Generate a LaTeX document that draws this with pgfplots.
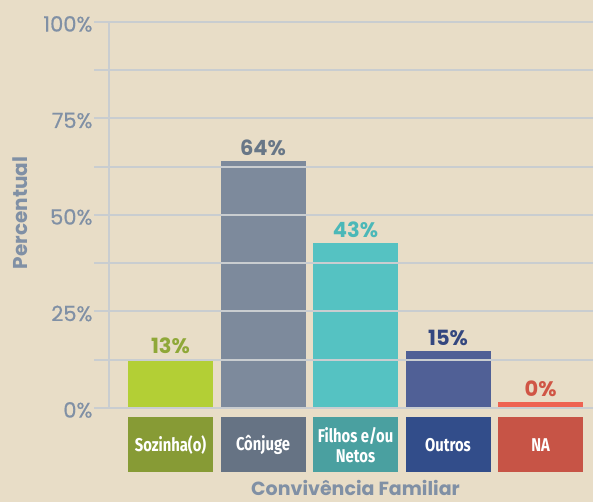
\documentclass[border=0pt]{standalone}
\usepackage{pgfplots}
\pgfplotsset{compat=1.18}
\usepackage{fontspec}
\setmainfont{Poppins}
\newfontfamily\tickfont[FakeBold=0.6]{Poppins}
\newfontfamily\condfont[FakeStretch=0.8]{Fira Sans}

\definecolor{bg}{HTML}{E8DDC7}
\definecolor{gridc}{HTML}{C9CDD0}
\definecolor{axtext}{HTML}{8090A5}
% bars
\definecolor{b1}{HTML}{B3CF35}
\definecolor{b2}{HTML}{7D8A9C}
\definecolor{b3}{HTML}{55C2C2}
\definecolor{b4}{HTML}{506096}
\definecolor{b5}{HTML}{EE6352}
% label boxes
\definecolor{d1}{HTML}{879B35}
\definecolor{d2}{HTML}{667384}
\definecolor{d3}{HTML}{4AA0A0}
\definecolor{d4}{HTML}{324D8A}
\definecolor{d5}{HTML}{C75446}
% value labels
\definecolor{v1}{HTML}{8FA838}
\definecolor{v2}{HTML}{687787}
\definecolor{v3}{HTML}{4BB8B8}
\definecolor{v4}{HTML}{34477F}
\definecolor{v5}{HTML}{D05545}

\begin{document}
\begin{tikzpicture}
\path[use as bounding box, fill=bg] (-109pt,-94pt) rectangle (484pt,408pt);
\begin{axis}[
    at={(0,0)}, anchor=south west,
    scale only axis,
    width=484pt, height=386pt,
    xmin=-0.665, xmax=4.567,
    ymin=0, ymax=100,
    clip=false,
    axis on top,
    axis lines=left,
    axis line style={draw=gridc, line width=2.2pt, -},
    xtick=\empty,
    ytick={0,25,50,75,100},
    minor ytick={12.5,37.5,62.5,87.5},
    grid=both,
    major grid style={draw=gridc, line width=2pt},
    minor grid style={draw=gridc, line width=2pt},
    tick align=outside,
    major tick length=15pt,
    minor tick length=15pt,
    every tick/.style={draw=gridc, line width=2pt},
    /pgf/number format/assume math mode=true,
    yticklabel={\pgfmathprintnumber{\tick}\%},
    yticklabel style={font=\tickfont\fontsize{21}{21}\selectfont, text=axtext, yshift=-2pt, xshift=2pt},
    ybar, bar width=85pt, bar shift=0pt,
    every node near coord/.append style={font=\fontsize{21}{21}\selectfont\bfseries, yshift=2pt},
    nodes near coords,
  ]
  \addplot[fill=b1, draw=none, nodes near coords={13\%}, every node near coord/.append style={text=v1}] coordinates {(0,12.6)};
  \addplot[fill=b2, draw=none, nodes near coords={64\%}, every node near coord/.append style={text=v2}] coordinates {(1,64)};
  \addplot[fill=b3, draw=none, nodes near coords={43\%}, every node near coord/.append style={text=v3}] coordinates {(2,42.7)};
  \addplot[fill=b4, draw=none, nodes near coords={15\%}, every node near coord/.append style={text=v4}] coordinates {(3,14.8)};
  \addplot[fill=b5, draw=none, nodes near coords={0\%}, every node near coord/.append style={text=v5}] coordinates {(4,1.5)};

  \begin{scope}[every node/.style={anchor=north, yshift=-9pt, minimum width=85pt, minimum height=55pt, inner sep=0pt, text=white, align=center, font=\condfont\bfseries\fontsize{18.5}{20}\selectfont}]
  \node[fill=d1] at (axis cs:0,0) {Sozinha(o)};
  \node[fill=d2] at (axis cs:1,0) {Cônjuge};
  \node[fill=d3] at (axis cs:2,0) {Filhos e/ou\\Netos};
  \node[fill=d4] at (axis cs:3,0) {Outros};
  \node[fill=d5] at (axis cs:4,0) {NA};
  \end{scope}
  \node[rotate=90, anchor=center, text=axtext, font=\fontsize{20}{20}\selectfont\bfseries] at ([xshift=-89pt]axis description cs:0,0.505) {Percentual};
  \node[anchor=base, inner sep=0pt, text=axtext, font=\fontsize{19}{19}\selectfont\bfseries] at ([yshift=-87pt]axis cs:2,0) {Convivência Familiar};
\end{axis}
\end{tikzpicture}
\end{document}
